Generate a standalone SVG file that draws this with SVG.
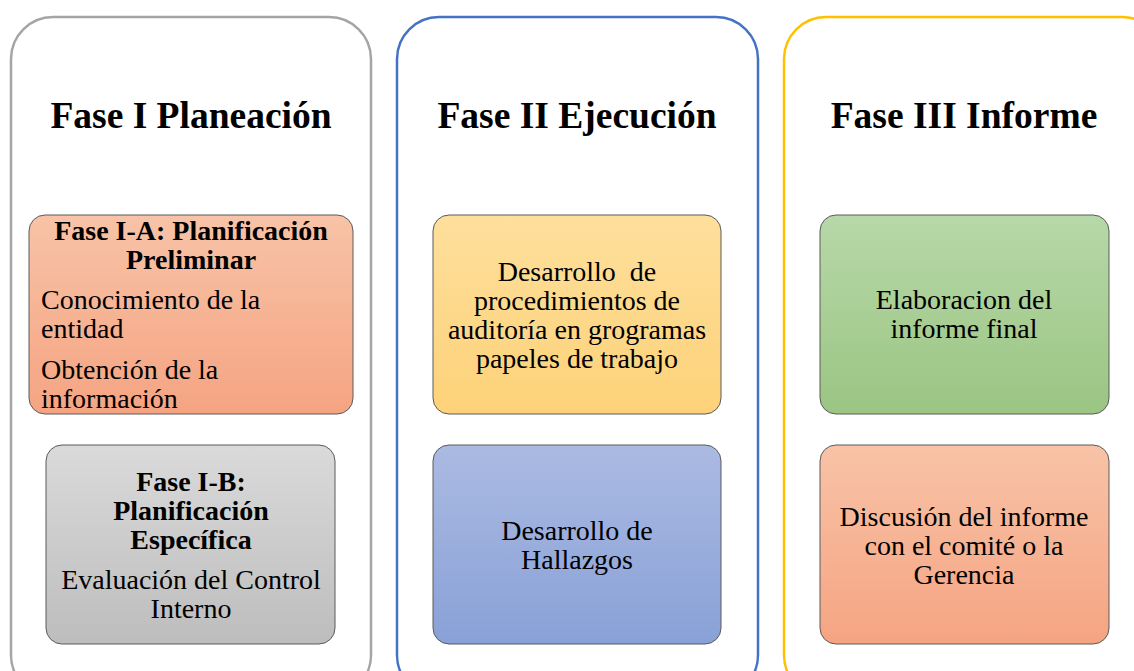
<svg xmlns="http://www.w3.org/2000/svg" width="1134" height="671" viewBox="0 0 1134 671">
<defs>
<linearGradient id="gOrange" x1="0" y1="0" x2="0" y2="1"><stop offset="0" stop-color="#F8C3A7"/><stop offset="1" stop-color="#F5A482"/></linearGradient>
<linearGradient id="gGray" x1="0" y1="0" x2="0" y2="1"><stop offset="0" stop-color="#DADADA"/><stop offset="1" stop-color="#BDBDBD"/></linearGradient>
<linearGradient id="gYellow" x1="0" y1="0" x2="0" y2="1"><stop offset="0" stop-color="#FEDF9C"/><stop offset="1" stop-color="#FDD279"/></linearGradient>
<linearGradient id="gBlue" x1="0" y1="0" x2="0" y2="1"><stop offset="0" stop-color="#ABBAE2"/><stop offset="1" stop-color="#89A1D7"/></linearGradient>
<linearGradient id="gGreen" x1="0" y1="0" x2="0" y2="1"><stop offset="0" stop-color="#B7D8A8"/><stop offset="1" stop-color="#9BC583"/></linearGradient>
</defs>
<style>
.panel{fill:#fff;stroke-width:2.5}
.box{stroke:#5a5a5a;stroke-width:1}
text{font-family:"Liberation Serif","Times New Roman",serif;fill:#000}
.title{font-weight:bold;font-size:37.5px;text-anchor:middle}
.t{font-size:28px}
.c{text-anchor:middle}
.b{font-weight:bold}
</style>
<rect width="1134" height="671" fill="#fff"/>
<g id="fase1">
<rect class="panel" x="11" y="17" width="360" height="680" rx="42" stroke="#A5A5A5"/>
<text class="title" x="191" y="128">Fase I Planeación</text>
</g>
<g id="fase2">
<rect class="panel" x="397" y="17" width="361" height="680" rx="42" stroke="#4472C4"/>
<text class="title" x="577" y="128">Fase II Ejecución</text>
</g>
<g id="fase3">
<rect class="panel" x="784" y="17" width="380" height="680" rx="42" stroke="#FFC000"/>
<text class="title" x="964" y="128">Fase III Informe</text>
</g>
<g id="fase1a">
<rect class="box" x="29" y="215" width="324" height="199" rx="16" fill="url(#gOrange)"/>
<text class="t c b" x="191" y="240">Fase I-A: Planificación</text>
<text class="t c b" x="191" y="269">Preliminar</text>
<text class="t" x="41" y="309">Conocimiento de la</text>
<text class="t" x="41" y="338">entidad</text>
<text class="t" x="41" y="379">Obtención de la</text>
<text class="t" x="41" y="408">información</text>
</g>
<g id="fase1b">
<rect class="box" x="46" y="445" width="289" height="199" rx="16" fill="url(#gGray)"/>
<text class="t c b" x="191" y="491">Fase I-B:</text>
<text class="t c b" x="191" y="520">Planificación</text>
<text class="t c b" x="191" y="549">Específica</text>
<text class="t c" x="191" y="589">Evaluación del Control</text>
<text class="t c" x="191" y="618">Interno</text>
</g>
<g id="fase2a">
<rect class="box" x="433" y="215" width="288" height="199" rx="16" fill="url(#gYellow)"/>
<text class="t c" x="577" y="281" xml:space="preserve">Desarrollo  de</text>
<text class="t c" x="577" y="310">procedimientos de</text>
<text class="t c" x="577" y="339">auditoría en grogramas</text>
<text class="t c" x="577" y="368">papeles de trabajo</text>
</g>
<g id="fase2b">
<rect class="box" x="433" y="445" width="288" height="199" rx="16" fill="url(#gBlue)"/>
<text class="t c" x="577" y="540">Desarrollo de</text>
<text class="t c" x="577" y="569">Hallazgos</text>
</g>
<g id="fase3a">
<rect class="box" x="820" y="215" width="289" height="199" rx="16" fill="url(#gGreen)"/>
<text class="t c" x="964" y="309">Elaboracion del</text>
<text class="t c" x="964" y="338">informe final</text>
</g>
<g id="fase3b">
<rect class="box" x="820" y="445" width="289" height="199" rx="16" fill="url(#gOrange)"/>
<text class="t c" x="964" y="526">Discusión del informe</text>
<text class="t c" x="964" y="555">con el comité o la</text>
<text class="t c" x="964" y="584">Gerencia</text>
</g>
<g id="connectors"/>
</svg>
